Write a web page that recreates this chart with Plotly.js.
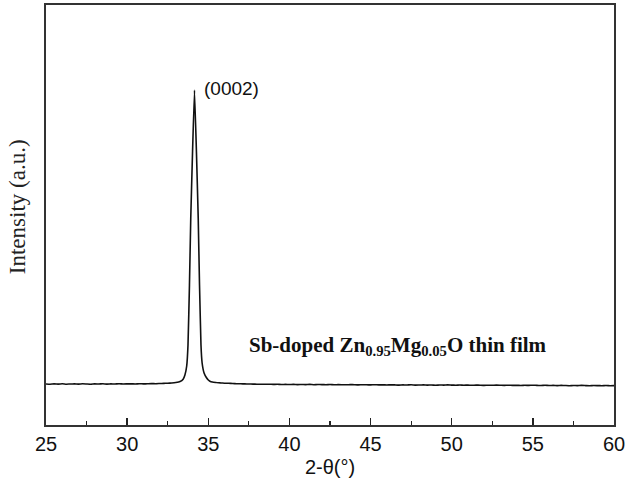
<!DOCTYPE html>
<html>
<head>
<meta charset="utf-8">
<script src="https://cdn.plot.ly/plotly-3.0.1.min.js"></script>
<style>html,body{margin:0;padding:0;background:#fff;}#chart{width:627px;height:487px;}</style>
</head>
<body>
<div id="chart"></div>
<script>
// 2-theta (degrees)
const twoTheta = [
  25.0,25.25,25.5,25.75,26.0,26.25,26.5,26.75,27.0,27.25,27.5,27.75,28.0,28.25,28.5,28.75,
  29.0,29.25,29.5,29.75,30.0,30.25,30.5,30.75,31.0,31.25,31.5,31.75,32.0,32.25,32.5,32.75,
  33.0,33.26,33.45,33.56,33.67,33.75,33.84,33.92,34.03,34.15,34.27,34.38,34.46,34.55,34.62,34.74,
  34.88,35.0,35.1,35.25,35.5,35.75,36.0,36.25,36.5,36.75,37.0,37.25,37.5,37.75,38.0,38.25,38.5,38.75,
  39.0,39.25,39.5,39.75,40.0,40.25,40.5,40.75,41.0,41.25,41.5,41.75,42.0,42.25,42.5,42.75,
  43.0,43.25,43.5,43.75,44.0,44.25,44.5,44.75,45.0,45.25,45.5,45.75,46.0,46.25,46.5,46.75,
  47.0,47.25,47.5,47.75,48.0,48.25,48.5,48.75,49.0,49.25,49.5,49.75,50.0,50.25,50.5,50.75,
  51.0,51.25,51.5,51.75,52.0,52.25,52.5,52.75,53.0,53.25,53.5,53.75,54.0,54.25,54.5,54.75,
  55.0,55.25,55.5,55.75,56.0,56.25,56.5,56.75,57.0,57.25,57.5,57.75,58.0,58.25,58.5,58.75,
  59.0,59.25,59.5,59.75,60.0
];
// Intensity (arbitrary units)
const intensity = [
  410,408,411,409,412,408,410,411,409,412,410,408,411,410,412,409,
  411,410,413,410,411,412,410,413,411,412,414,413,415,416,418,420,
  425,435,458,500,590,800,1400,2070,2730,3350,2730,2070,1400,800,620,520,
  475,450,438,430,425,421,418,417,415,413,412,411,410,409,408,408,407,408,
  406,407,405,406,405,406,404,405,404,406,403,405,404,403,405,402,
  404,403,402,404,403,401,403,402,401,403,401,402,400,402,401,399,
  401,400,402,399,400,401,399,400,398,400,399,401,399,398,400,398,
  399,397,399,398,396,398,397,399,397,396,398,396,397,395,397,396,
  398,396,395,397,395,396,394,396,395,393,395,394,396,394,393,395,
  394,393,395,393,394
];
const xTickVals = [25,30,35,40,45,50,55,60];
const xTitle = '2-θ(°)';
const yTitle = 'Intensity (a.u.)';
const peakLabel = "(0002)";
const sampleLabel = "<b>Sb-doped Zn<sub>0.95</sub>Mg<sub>0.05</sub>O thin film</b>";

const trace = {
  x: twoTheta, y: intensity, type: 'scatter', mode: 'lines',
  line: {color: '#111', width: 1.6, shape: 'spline', smoothing: 0.3},
  hoverinfo: 'skip'
};
const layout = {
  width: 627, height: 487,
  margin: {l: 46, r: 13, t: 5, b: 62},
  paper_bgcolor: '#fff', plot_bgcolor: '#fff',
  showlegend: false,
  font: {family: 'Liberation Sans, Arial, sans-serif', color: '#111'},
  xaxis: {
    range: [25, 60], tickvals: xTickVals, ticks: 'inside', ticklen: 7, tickwidth: 1.3,
    tickcolor: '#222', showgrid: false, zeroline: false,
    showline: true, linecolor: '#333', linewidth: 2, mirror: true,
    tickfont: {size: 20, family: 'Liberation Sans, Arial, sans-serif', color: '#111'},
    minor: {dtick: 2.5, ticks: 'inside', ticklen: 4, tickwidth: 1.2, tickcolor: '#222', showgrid: false},
    title: {text: xTitle, font: {size: 20, family: 'Liberation Sans, Arial, sans-serif', color: '#111'}, standoff: 6}
  },
  yaxis: {
    range: [0, 4200], showticklabels: false, ticks: '', showgrid: false, zeroline: false,
    showline: true, linecolor: '#333', linewidth: 2, mirror: true
  },
  annotations: [
    {xref: 'paper', yref: 'paper', x: -0.05, y: 0.52, text: yTitle, textangle: -90,
     showarrow: false, xanchor: 'center', yanchor: 'middle',
     font: {size: 23, family: 'Liberation Serif, Times New Roman, serif', color: '#222'}},
    {x: 34.62, y: 3370, text: peakLabel, showarrow: false, xanchor: 'left', yanchor: 'middle',
     font: {size: 19, family: 'Liberation Sans, Arial, sans-serif', color: '#111'}},
    {x: 37.4, y: 790, text: sampleLabel, showarrow: false, xanchor: 'left', yanchor: 'middle',
     font: {size: 21, family: 'Liberation Serif, Times New Roman, serif', color: '#111'}}
  ]
};
Plotly.newPlot('chart', [trace], layout, {displayModeBar: false, staticPlot: true});
</script>
</body>
</html>
